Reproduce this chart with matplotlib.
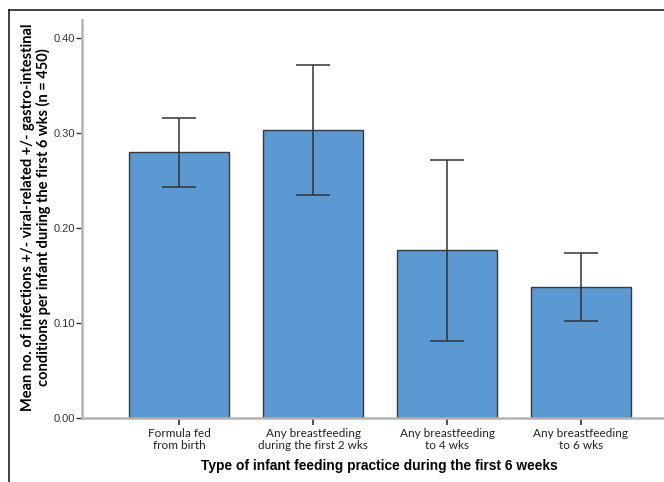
import matplotlib
matplotlib.use('Agg')
import matplotlib.pyplot as plt
from matplotlib.lines import Line2D

# Data
categories = ['Formula fed\nfrom birth',
              'Any breastfeeding\nduring the first 2 wks',
              'Any breastfeeding\nto 4 wks',
              'Any breastfeeding\nto 6 wks']
means = [0.280, 0.303, 0.177, 0.138]
ci_low = [0.243, 0.235, 0.081, 0.102]
ci_high = [0.316, 0.372, 0.272, 0.174]
yticks = [0.00, 0.10, 0.20, 0.30, 0.40]

bar_color = '#5b99d2'
spine_color = '#b4b4b4'

fig = plt.figure(figsize=(6.64, 4.82), dpi=100)
ax = fig.add_axes([0.1235, 0.1328, 0.8976, 0.8257])

x = list(range(len(categories)))
err = [[m - lo for m, lo in zip(means, ci_low)],
       [hi - m for m, hi in zip(means, ci_high)]]
ax.bar(x, means, width=0.746, color=bar_color, edgecolor='#3a3a3a',
       linewidth=1.0, zorder=2)
ax.errorbar(x, means, yerr=err, fmt='none', ecolor='#333333',
            elinewidth=1.1, capsize=12, capthick=1.1, zorder=3)

ax.set_xlim(-0.724, 3.724)
ax.set_ylim(0, 0.419)

for side in ['top', 'right']:
    ax.spines[side].set_visible(False)
for side in ['left', 'bottom']:
    ax.spines[side].set_color(spine_color)
    ax.spines[side].set_linewidth(1.8)

ax.set_yticks(yticks)
ax.set_yticklabels(['%.2f' % v for v in yticks], fontsize=8,
                   family='Liberation Sans', color='#333333')
ax.set_xticks(x)
ax.set_xticklabels(categories, fontsize=8.5, family='Lato', color='#222222',
                   linespacing=1.1)
ax.tick_params(axis='y', direction='out', length=4, width=1, color='#333333', pad=1)
ax.tick_params(axis='x', direction='out', length=5, width=1.2, color='#333333', pad=2)

ax.set_ylabel('Mean no. of infections +/- viral-related +/- gastro-intestinal\n'
              'conditions per infant during the first 6 wks (n = 450)',
              fontsize=10.5, family='Lato', fontweight='bold', linespacing=1.05)
ax.yaxis.set_label_coords(-0.052, 0.505)
fig.text(0.572, 0.033, 'Type of infant feeding practice during the first 6 weeks',
         ha='center', va='center', fontsize=9.95, family='Liberation Sans',
         fontweight='bold')

# outer frame (left and top edges)
fig.add_artist(Line2D([9 / 664, 9 / 664], [0, 1 - 10 / 482],
                      transform=fig.transFigure, color='#222222', lw=1.2))
fig.add_artist(Line2D([9 / 664, 1], [1 - 10 / 482, 1 - 10 / 482],
                      transform=fig.transFigure, color='#222222', lw=1.2))

fig.savefig('out.png', dpi=100)
